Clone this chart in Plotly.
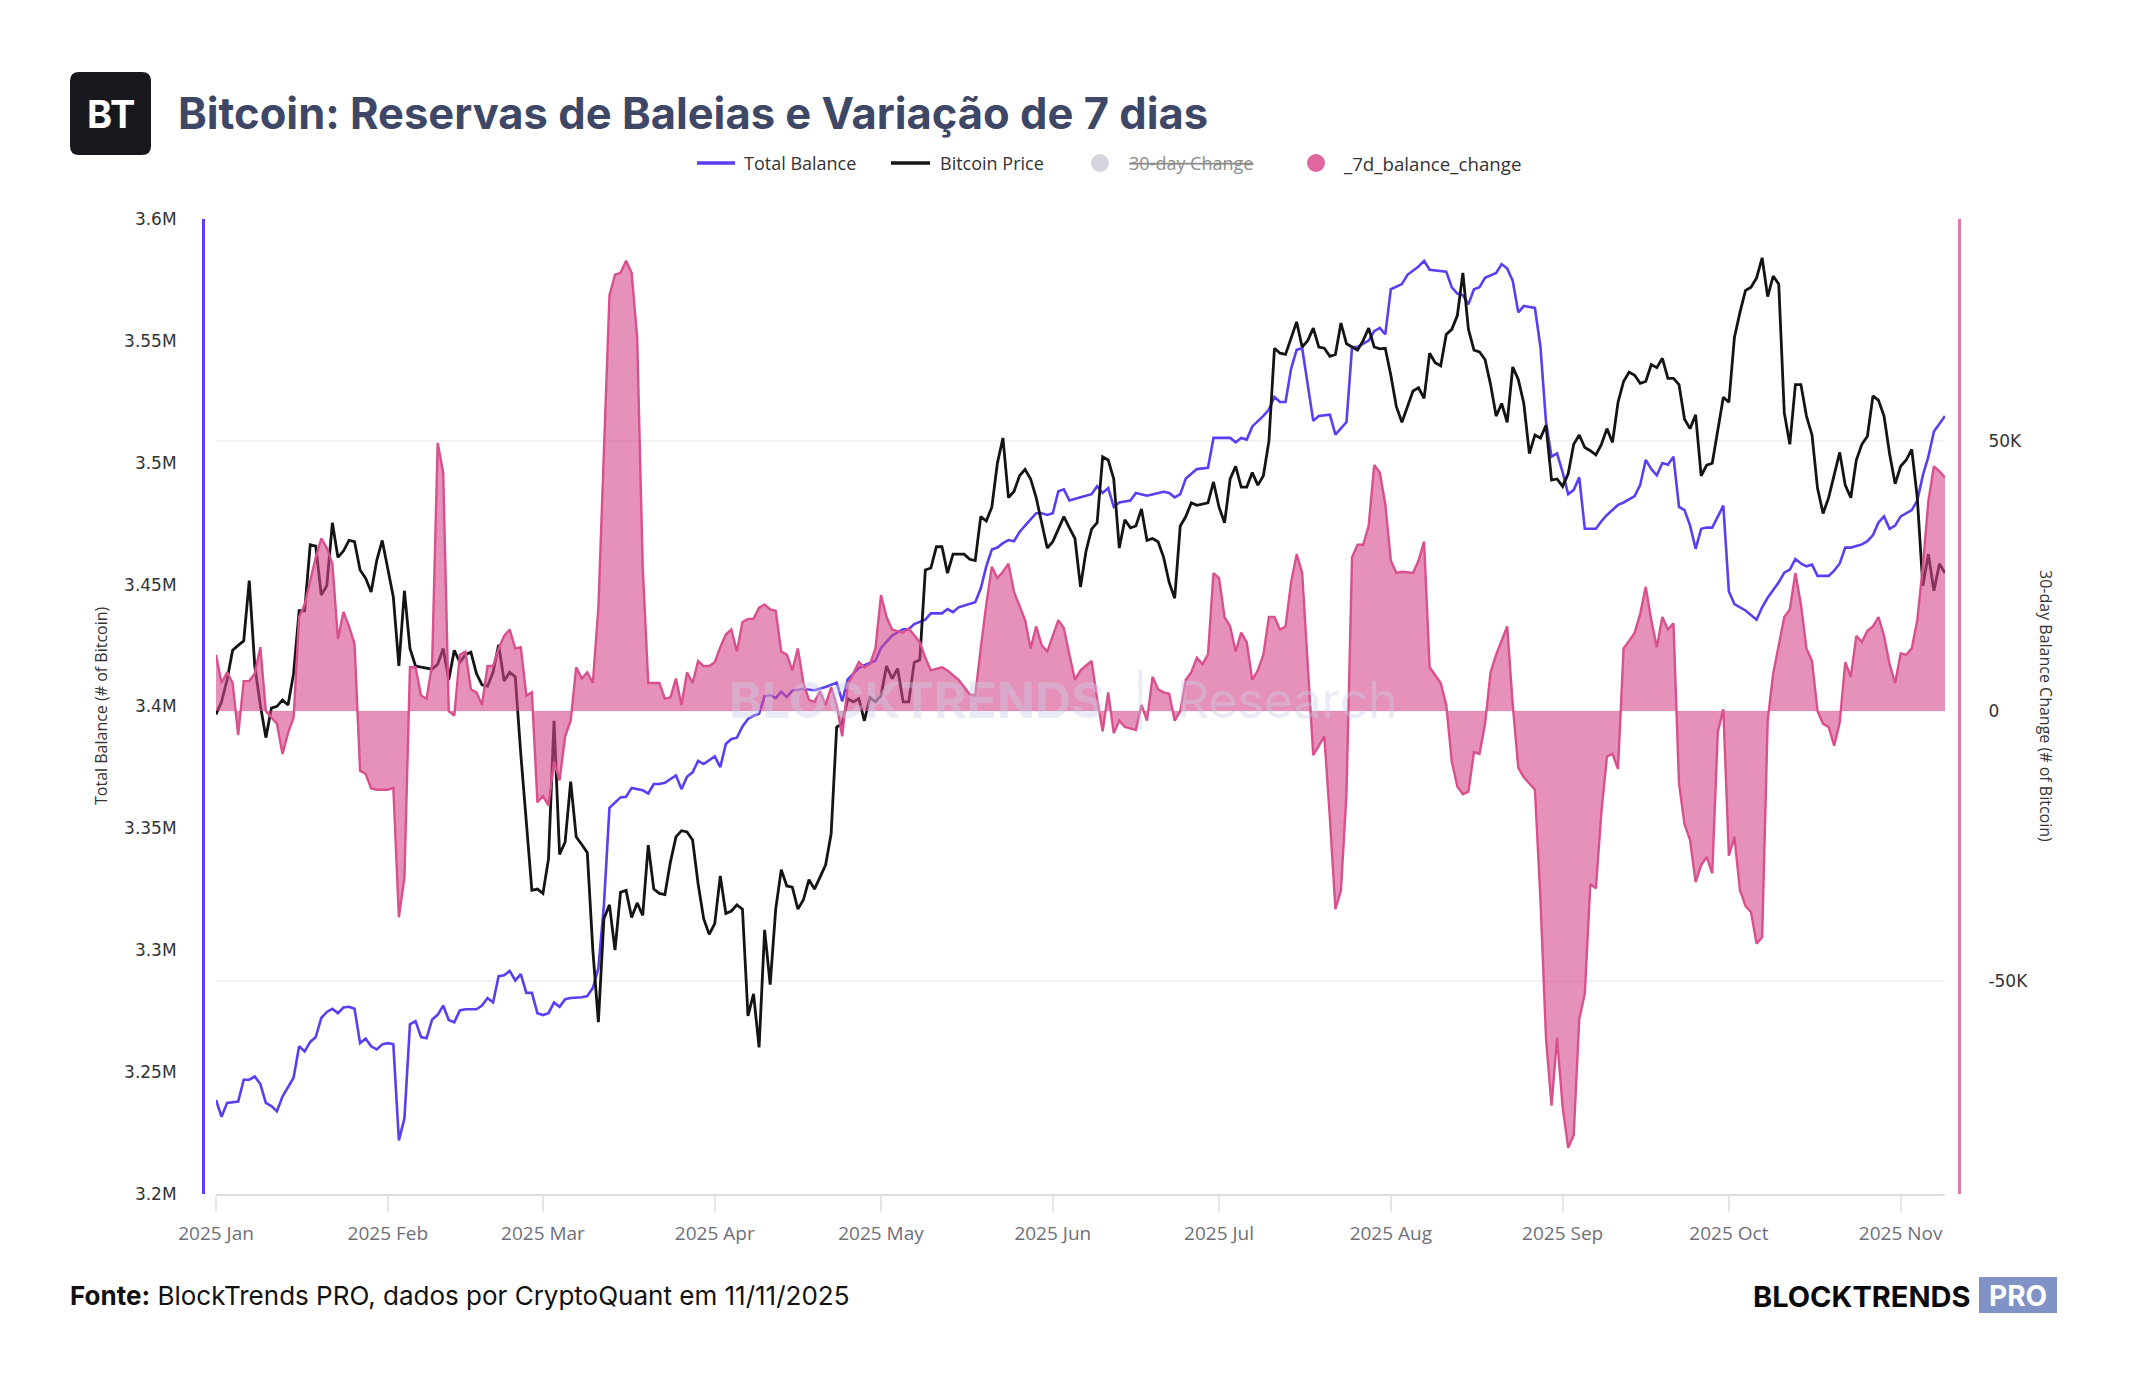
import pandas as pd
import plotly.graph_objects as go

W, H = 2144, 1400
START = pd.Timestamp("2025-01-01")

# ---------------- data ----------------
# day offsets from 2025-01-01
balance_day = [0, 1, 2, 4, 5, 6, 7, 8, 9, 10, 11, 12, 14, 15, 16, 17, 18, 19, 20, 21, 22, 23, 24, 25, 26, 27,
               28, 29, 30, 31, 32, 33, 34, 35, 36, 37, 38, 39, 40, 41, 42, 43, 44, 45, 47, 48, 49, 50, 51, 52,
               53, 54, 55, 56, 57, 58, 59, 60, 61, 62, 63, 64, 66, 67, 68, 69, 70, 71, 73, 74, 75, 77, 78, 79,
               80, 81, 83, 84, 85, 86, 87, 88, 90, 91, 92, 93, 94, 95, 96, 97, 98, 99, 100, 101, 102, 103, 104,
               106, 108, 110, 112, 113, 114, 116, 117, 119, 120, 122, 124, 125, 126, 128, 129, 131, 132, 133,
               134, 137, 138, 139, 140, 141, 142, 143, 144, 145, 146, 148, 149, 150, 151, 152, 153, 154, 156,
               158, 159, 160, 161, 162, 163, 165, 166, 168, 171, 172, 173, 174, 175, 177, 179, 180, 182, 183,
               184, 185, 186, 187, 189, 190, 191, 192, 193, 194, 195, 196, 198, 199, 201, 202, 204, 205, 206,
               208, 209, 210, 211, 212, 214, 215, 217, 218, 219, 222, 223, 224, 225, 226, 227, 228, 229, 231,
               232, 233, 234, 235, 236, 238, 239, 240, 241, 242, 243, 244, 245, 246, 247, 249, 250, 251, 253,
               254, 256, 257, 258, 259, 260, 261, 262, 263, 264, 265, 266, 267, 268, 269, 270, 272, 273, 274,
               276, 277, 278, 279, 280, 282, 283, 284, 285, 286, 287, 288, 289, 291, 292, 293, 294, 295, 297,
               298, 299, 300, 301, 302, 303, 304, 306, 307, 308, 309, 310, 312]
# Total Balance, millions of BTC
balance_m = [3.2386, 3.2317, 3.2374, 3.2379, 3.2469, 3.2469, 3.2482, 3.2451, 3.2374, 3.2361, 3.2340, 3.2400,
             3.2477, 3.2606, 3.2585, 3.2624, 3.2644, 3.2722, 3.2747, 3.2760, 3.2742, 3.2765, 3.2768, 3.2760,
             3.2619, 3.2637, 3.2606, 3.2593, 3.2614, 3.2619, 3.2614, 3.2220, 3.2310, 3.2696, 3.2709, 3.2644,
             3.2639, 3.2716, 3.2735, 3.2773, 3.2714, 3.2704, 3.2753, 3.2758, 3.2758, 3.2773, 3.2804, 3.2786,
             3.2894, 3.2897, 3.2915, 3.2876, 3.2902, 3.2825, 3.2825, 3.2742, 3.2734, 3.2742, 3.2786, 3.2768,
             3.2799, 3.2804, 3.2807, 3.2812, 3.2845, 3.2927, 3.3185, 3.3584, 3.3627, 3.3630, 3.3666, 3.3656,
             3.3643, 3.3682, 3.3682, 3.3687, 3.3717, 3.3661, 3.3712, 3.3730, 3.3777, 3.3764, 3.3795, 3.3751,
             3.3846, 3.3867, 3.3872, 3.3918, 3.3949, 3.3962, 3.3970, 3.4042, 3.4047, 3.4034, 3.4060, 3.4039,
             3.4065, 3.4073, 3.4067, 3.4080, 3.4098, 3.4021, 3.4111, 3.4158, 3.4170, 3.4188, 3.4240, 3.4291,
             3.4317, 3.4317, 3.4338, 3.4356, 3.4382, 3.4382, 3.4400, 3.4387, 3.4407, 3.4428, 3.4484, 3.4575,
             3.4644, 3.4652, 3.4670, 3.4683, 3.4678, 3.4716, 3.4742, 3.4793, 3.4793, 3.4786, 3.4793, 3.4883,
             3.4891, 3.4845, 3.4858, 3.4871, 3.4904, 3.4876, 3.4896, 3.4819, 3.4837, 3.4845, 3.4876, 3.4865,
             3.4881, 3.4876, 3.4858, 3.4871, 3.4935, 3.4974, 3.4979, 3.5102, 3.5102, 3.5102, 3.5084, 3.5102,
             3.5095, 3.5149, 3.5192, 3.5218, 3.5270, 3.5249, 3.5249, 3.5385, 3.5463, 3.5470, 3.5172, 3.5192,
             3.5197, 3.5115, 3.5167, 3.5475, 3.5475, 3.5501, 3.5540, 3.5553, 3.5527, 3.5712, 3.5733, 3.5771,
             3.5805, 3.5828, 3.5792, 3.5784, 3.5720, 3.5694, 3.5687, 3.5650, 3.5712, 3.5720, 3.5759, 3.5779,
             3.5815, 3.5797, 3.5746, 3.5617, 3.5643, 3.5635, 3.5475, 3.5167, 3.5025, 3.5038, 3.4961, 3.4871,
             3.4889, 3.4940, 3.4729, 3.4729, 3.4760, 3.4786, 3.4827, 3.4837, 3.4863, 3.4909, 3.5012, 3.4974,
             3.4948, 3.4999, 3.4992, 3.5025, 3.4819, 3.4806, 3.4742, 3.4647, 3.4729, 3.4734, 3.4734, 3.4824,
             3.4472, 3.4420, 3.4394, 3.4374, 3.4356, 3.4407, 3.4446, 3.4510, 3.4549, 3.4562, 3.4605, 3.4587,
             3.4575, 3.4582, 3.4536, 3.4536, 3.4557, 3.4587, 3.4652, 3.4652, 3.4665, 3.4678, 3.4703, 3.4755,
             3.4780, 3.4729, 3.4742, 3.4780, 3.4806, 3.4845, 3.4948, 3.5025, 3.5128, 3.5192]

price_day = [0, 1, 2, 3, 4, 5, 6, 7, 8, 9, 10, 11, 12, 13, 14, 15, 16, 17, 18, 19, 20, 21, 22, 23, 24, 25, 26,
             27, 28, 29, 30, 31, 32, 33, 34, 35, 36, 39, 40, 41, 42, 43, 44, 45, 46, 47, 48, 49, 50, 51, 52, 53,
             54, 55, 57, 58, 59, 60, 61, 62, 63, 64, 65, 66, 67, 68, 69, 70, 71, 72, 73, 74, 75, 76, 77, 78, 79,
             80, 81, 82, 83, 84, 85, 86, 87, 88, 89, 90, 91, 92, 93, 94, 95, 96, 97, 98, 99, 100, 101, 102, 103,
             104, 105, 106, 107, 108, 109, 110, 111, 112, 113, 114, 115, 116, 117, 118, 119, 120, 121, 122,
             123, 124, 125, 126, 127, 128, 129, 130, 131, 132, 133, 134, 135, 136, 137, 138, 139, 140, 141,
             142, 143, 144, 145, 146, 147, 148, 150, 151, 153, 154, 155, 156, 157, 158, 159, 160, 161, 162,
             163, 164, 165, 166, 167, 168, 169, 170, 171, 172, 173, 174, 175, 176, 177, 179, 180, 181, 182,
             183, 184, 185, 186, 187, 188, 189, 190, 191, 192, 193, 194, 195, 196, 197, 198, 199, 200, 201,
             202, 203, 204, 205, 206, 207, 208, 209, 210, 211, 212, 213, 214, 216, 217, 218, 219, 220, 221,
             222, 223, 224, 225, 226, 227, 228, 229, 230, 231, 232, 233, 234, 235, 236, 237, 238, 239, 240,
             241, 242, 243, 244, 245, 246, 247, 248, 249, 250, 251, 252, 253, 254, 255, 256, 257, 258, 259,
             260, 261, 262, 263, 264, 265, 266, 267, 268, 269, 270, 271, 272, 273, 274, 275, 276, 277, 278,
             279, 280, 281, 282, 283, 284, 285, 286, 287, 288, 289, 290, 291, 292, 293, 294, 295, 296, 297,
             298, 299, 300, 301, 302, 303, 304, 305, 306, 307, 308, 309, 310, 311, 312]
# Bitcoin Price, thousands of USD (plotted on a hidden axis)
price_k = [97.24, 98.03, 99.42, 101.28, 101.59, 101.87, 105.67, 100.29, 97.83, 95.78, 97.64, 97.75, 98.15,
           97.83, 99.81, 103.77, 103.77, 107.92, 107.84, 104.76, 105.35, 109.31, 107.13, 107.53, 108.20,
           108.12, 106.34, 105.82, 104.95, 106.93, 108.20, 106.34, 104.64, 100.29, 105.03, 101.39, 100.29,
           100.09, 100.40, 101.39, 99.42, 101.28, 100.52, 101.00, 101.16, 99.81, 99.10, 99.02, 99.89, 101.63,
           99.34, 99.89, 99.61, 94.75, 86.16, 86.24, 85.97, 88.14, 96.84, 88.42, 89.21, 93.01, 89.53, 89.05,
           88.54, 82.40, 77.86, 84.38, 85.25, 82.40, 86.04, 86.16, 84.46, 85.37, 84.58, 89.01, 86.24, 85.97,
           85.89, 87.94, 89.53, 89.92, 89.84, 89.33, 86.56, 84.38, 83.39, 84.07, 87.07, 84.70, 84.86, 85.25,
           84.98, 78.25, 79.64, 76.27, 83.67, 80.23, 84.98, 87.47, 86.44, 86.36, 84.98, 85.57, 86.84, 86.24,
           86.95, 87.75, 89.72, 96.45, 96.65, 98.23, 98.03, 98.23, 96.84, 98.31, 98.03, 98.43, 100.29, 99.49,
           100.13, 98.03, 98.03, 100.52, 100.68, 106.34, 106.46, 107.80, 107.80, 106.14, 107.33, 107.33,
           107.33, 107.01, 106.93, 109.70, 109.42, 110.29, 113.06, 114.65, 110.89, 111.28, 112.27, 112.67,
           112.07, 110.89, 107.72, 108.12, 109.70, 108.99, 108.32, 105.27, 107.53, 108.91, 109.31, 113.46,
           113.26, 112.07, 107.72, 109.50, 108.99, 109.11, 110.18, 108.20, 108.32, 108.12, 107.13, 105.55,
           104.56, 109.11, 109.70, 110.57, 110.41, 110.57, 111.88, 110.29, 109.31, 112.07, 112.87, 111.56,
           111.56, 112.47, 111.68, 112.27, 114.45, 120.30, 119.99, 119.91, 120.98, 121.96, 120.38, 120.78,
           121.57, 120.38, 120.30, 119.79, 119.91, 121.89, 120.58, 120.38, 120.18, 120.78, 121.57, 120.38,
           120.26, 120.30, 118.60, 116.62, 115.64, 117.61, 117.81, 117.14, 119.99, 119.39, 119.20, 121.17,
           121.49, 122.36, 125.05, 121.50, 120.18, 120.07, 119.59, 118.01, 116.03, 116.82, 115.64, 119.12,
           118.33, 116.82, 113.66, 114.84, 114.65, 115.44, 112.00, 112.07, 111.60, 112.39, 114.25, 114.84,
           114.05, 113.85, 113.58, 114.25, 115.24, 114.37, 116.90, 118.21, 118.80, 118.60, 118.09, 118.21,
           119.27, 119.08, 119.67, 118.40, 118.40, 118.01, 115.83, 115.24, 116.11, 112.27, 112.94, 113.06,
           115.24, 117.22, 116.90, 120.98, 122.56, 123.94, 124.14, 124.73, 126.00, 123.55, 124.85, 124.34,
           116.23, 114.25, 118.01, 118.01, 116.03, 114.84, 111.48, 109.90, 110.89, 112.27, 113.74, 111.68,
           110.89, 113.26, 114.25, 114.76, 117.30, 117.02, 116.03, 113.66, 111.76, 112.87, 113.26, 113.93,
           110.89, 105.35, 107.33, 105.03, 106.73, 106.14]

change_day = [0, 1, 2, 3, 4, 5, 6, 7, 8, 9, 10, 11, 12, 13, 14, 15, 16, 17, 18, 19, 20, 21, 22, 23, 24, 25, 26,
              27, 28, 29, 31, 32, 33, 34, 35, 36, 37, 38, 39, 40, 41, 42, 43, 44, 45, 46, 47, 48, 49, 50, 51,
              52, 53, 54, 55, 56, 57, 58, 59, 60, 61, 62, 63, 64, 65, 66, 67, 68, 69, 71, 72, 73, 74, 75, 76,
              77, 78, 79, 80, 81, 82, 83, 84, 85, 86, 87, 88, 89, 90, 91, 92, 93, 94, 95, 96, 97, 98, 99, 100,
              101, 102, 103, 104, 105, 106, 107, 108, 109, 110, 111, 112, 113, 114, 115, 116, 117, 118, 119,
              120, 121, 122, 124, 125, 127, 128, 129, 131, 132, 134, 136, 137, 138, 139, 140, 141, 142, 143,
              144, 146, 147, 148, 149, 150, 152, 153, 154, 155, 156, 158, 159, 160, 161, 162, 163, 164, 166,
              167, 168, 169, 170, 171, 172, 173, 174, 175, 176, 177, 178, 179, 180, 181, 182, 183, 184, 185,
              186, 187, 188, 189, 190, 191, 192, 193, 194, 195, 196, 197, 198, 199, 200, 201, 202, 203, 204,
              205, 206, 207, 208, 209, 210, 211, 212, 213, 214, 216, 217, 218, 219, 221, 222, 223, 224, 225,
              226, 227, 228, 229, 230, 231, 233, 234, 235, 236, 238, 239, 240, 241, 242, 243, 244, 245, 246,
              247, 248, 249, 250, 251, 252, 253, 254, 255, 256, 257, 258, 259, 260, 261, 262, 263, 264, 265,
              266, 267, 268, 269, 270, 271, 272, 273, 274, 275, 276, 277, 278, 279, 280, 281, 282, 283, 284,
              285, 286, 287, 288, 289, 290, 291, 292, 293, 294, 295, 296, 297, 298, 299, 300, 301, 302, 303,
              304, 305, 306, 307, 308, 309, 310, 311, 312]
# _7d_balance_change, thousands of BTC
change_k = [10.43, 5.19, 7.17, 5.19, -4.46, 5.54, 5.54, 6.94, 11.82, -0.04, -1.21, -2.37, -7.95, -4.11, -1.21,
            17.41, 19.73, 24.38, 28.46, 31.95, 30.20, 27.29, 13.33, 18.34, 15.66, 12.40, -11.09, -11.67,
            -14.35, -14.58, -14.58, -14.23, -38.20, -30.87, 8.10, 8.10, 2.87, 2.28, 8.68, 49.63, 44.16, -0.04,
            -0.86, 10.43, 11.01, 4.03, 3.45, 1.12, 8.33, 8.33, 11.59, 13.92, 15.08, 11.59, 11.82, 2.87, 3.45,
            -16.91, -15.75, -17.49, -9.35, -12.84, -4.70, -1.79, 8.10, 6.01, 7.17, 5.19, 19.15, 76.96, 80.80,
            81.15, 83.36, 81.15, 69.17, 26.71, 5.19, 5.19, 5.19, 2.28, 2.52, 6.01, 1.12, 7.17, 5.19, 9.26,
            8.33, 8.33, 9.03, 11.82, 14.15, 15.08, 11.01, 16.47, 17.06, 17.06, 19.15, 19.73, 18.80, 18.57,
            11.01, 10.43, 7.52, 11.59, 5.19, 2.05, 1.70, 3.68, 1.12, 4.38, 1.12, -4.70, 4.84, 6.94, 9.03,
            8.10, 8.68, 11.59, 21.48, 17.41, 15.08, 14.50, 15.31, 12.75, 9.84, 7.52, 8.10, 7.52, 5.77, 3.10,
            2.87, 11.59, 19.73, 26.71, 24.62, 25.78, 27.29, 22.06, 16.82, 11.59, 15.66, 12.17, 11.01, 16.82,
            15.31, 10.43, 5.77, 7.52, 9.26, 2.28, -3.76, 3.45, -4.11, -1.79, -2.95, -3.53, 1.12, -1.79, 6.35,
            4.03, 3.45, 3.21, -1.79, -0.04, 5.77, 7.17, 9.84, 8.68, 10.43, 25.55, 24.62, 17.41, 15.66, 11.01,
            14.50, 12.75, 5.77, 7.52, 10.43, 17.41, 17.41, 15.08, 15.66, 23.80, 29.04, 25.55, 8.10, -8.19,
            -6.44, -4.70, -19.82, -36.68, -33.19, -15.16, 28.46, 30.78, 30.78, 34.27, 45.55, 44.16, 38.34,
            27.87, 25.55, 25.78, 25.55, 27.87, 31.36, 8.10, 5.19, 1.12, -9.35, -14.00, -15.40, -14.93, -7.60,
            -7.95, -2.37, 7.17, 10.43, 15.66, 1.12, -10.51, -12.26, -14.58, -34.94, -60.53, -73.09, -60.53,
            -73.32, -80.89, -78.56, -57.04, -52.39, -32.03, -32.85, -18.65, -8.42, -7.95, -10.74, 11.59,
            12.99, 14.50, 17.99, 22.99, 16.82, 11.82, 17.41, 15.08, 16.24, -13.42, -20.98, -23.89, -31.68,
            -28.54, -27.03, -30.05, -3.88, 0.31, -26.80, -23.31, -33.19, -36.10, -37.27, -43.08, -41.92,
            -1.79, 6.94, 12.17, 17.41, 18.80, 25.55, 19.73, 11.59, 9.26, -0.04, -2.37, -2.95, -6.44, -2.14,
            9.03, 6.35, 13.92, 12.75, 14.85, 15.66, 17.41, 13.92, 8.68, 5.19, 10.66, 10.43, 11.59, 16.82,
            26.71, 38.92, 45.32, 44.39, 43.23]

x_tick_dates = ["2025-01-01", "2025-02-01", "2025-03-01", "2025-04-01", "2025-05-01", "2025-06-01",
                "2025-07-01", "2025-08-01", "2025-09-01", "2025-10-01", "2025-11-01"]
x_tick_labels = ["2025 Jan", "2025 Feb", "2025 Mar", "2025 Apr", "2025 May", "2025 Jun",
                 "2025 Jul", "2025 Aug", "2025 Sep", "2025 Oct", "2025 Nov"]
left_tick_vals = [3.20e6, 3.25e6, 3.30e6, 3.35e6, 3.40e6, 3.45e6, 3.50e6, 3.55e6, 3.60e6]
left_tick_labels = ["3.2M", "3.25M", "3.3M", "3.35M", "3.4M", "3.45M", "3.5M", "3.55M", "3.6M"]
right_tick_vals = [-50000, 0, 50000]
right_tick_labels = ["-50K", "0", "50K"]

legend_names = ["Total Balance", "Bitcoin Price", "30-day Change", "_7d_balance_change"]

# ---------------- helpers ----------------
def to_dates(days):
    return [START + pd.Timedelta(days=d) for d in days]

def px(x):  # page pixel -> paper fraction
    return x / W

def py(y):
    return 1 - y / H

C_BAL = "#5a3ef2"
C_PRICE = "#141414"
C_PINK = "#d9508e"
C_FILL = "rgba(214,72,140,0.6)"
C_RAXIS = "#e07aaa"

bal_x = to_dates(balance_day)
price_x = to_dates(price_day)
chg_x = to_dates(change_day)

fig = go.Figure()
fig.add_trace(go.Scatter(x=bal_x, y=[v * 1e6 for v in balance_m], name=legend_names[0], mode="lines",
                         line=dict(color=C_BAL, width=2.6), yaxis="y"))
fig.add_trace(go.Scatter(x=price_x, y=[v * 1e3 for v in price_k], name=legend_names[1], mode="lines",
                         line=dict(color=C_PRICE, width=2.8), yaxis="y2"))
fig.add_trace(go.Scatter(x=chg_x, y=[v * 1e3 for v in change_k], name=legend_names[3], mode="lines",
                         line=dict(color=C_PINK, width=2.4), fill="tozeroy", fillcolor=C_FILL, yaxis="y3"))

x_start = bal_x[0]
x_end = max(bal_x[-1], price_x[-1], chg_x[-1])

fig.update_layout(
    width=W, height=H,
    margin=dict(l=0, r=0, t=0, b=0, autoexpand=False),
    paper_bgcolor="white", plot_bgcolor="white",
    showlegend=False,
    xaxis=dict(
        domain=[px(216), px(1945)], range=[x_start, x_end], type="date", automargin=False,
        tickvals=x_tick_dates, ticktext=x_tick_labels,
        ticks="outside", ticklen=16, tickwidth=1.5, tickcolor="#e4e4ea",
        showline=True, linecolor="#dedee6", linewidth=2,
        showgrid=False, zeroline=False,
        tickfont=dict(family="Open Sans", size=19, color="#6e7079"),
        ticklabelstandoff=5,
    ),
    yaxis=dict(
        domain=[py(1194), py(219)], range=[3.2e6, 3.6e6], automargin=False,
        anchor="free", position=px(203), side="left",
        tickvals=left_tick_vals, ticktext=left_tick_labels,
        showline=True, linecolor=C_BAL, linewidth=3,
        showgrid=False, zeroline=False, ticks="",
        tickfont=dict(family="DejaVu Sans", size=17, color="#333333"),
        ticklabelstandoff=22,
    ),
    yaxis2=dict(overlaying="y", range=[67040, 128440], visible=False, automargin=False),
    yaxis3=dict(
        overlaying="y", side="right", anchor="free", position=px(1959), automargin=False,
        range=[-89444, 91111],
        tickvals=right_tick_vals, ticktext=right_tick_labels,
        showgrid=True, gridcolor="#f2f2f5", gridwidth=1.5, zeroline=False,
        showline=True, linecolor=C_RAXIS, linewidth=3, ticks="",
        tickfont=dict(family="DejaVu Sans", size=17, color="#333333"),
        ticklabelstandoff=24,
    ),
)

shapes = []
ann = []

# BT logo (rounded square)
def rounded_rect(x0, y0, x1, y1, r):
    rx, ry = r / W, r / H
    X0, X1 = px(x0), px(x1)
    Y0, Y1 = py(y0), py(y1)
    return (f"M {X0+rx},{Y0} L {X1-rx},{Y0} Q {X1},{Y0} {X1},{Y0-ry} "
            f"L {X1},{Y1+ry} Q {X1},{Y1} {X1-rx},{Y1} L {X0+rx},{Y1} Q {X0},{Y1} {X0},{Y1+ry} "
            f"L {X0},{Y0-ry} Q {X0},{Y0} {X0+rx},{Y0} Z")

shapes.append(dict(type="path", xref="paper", yref="paper", path=rounded_rect(70, 72, 151, 155, 9),
                   fillcolor="#16181d", line=dict(width=0), layer="above"))
ann.append(dict(x=px(110.5), y=py(114), xref="paper", yref="paper", text="<b>BT</b>", showarrow=False,
                xanchor="center", yanchor="middle",
                font=dict(family="Inter", size=38, color="white")))

# title
ann.append(dict(x=px(176), y=py(113), xref="paper", yref="paper",
                text="<b>Bitcoin: Reservas de Baleias e Variação de 7 dias</b>", showarrow=False,
                xanchor="left", yanchor="middle",
                font=dict(family="Inter", size=43.5, color="#3f4766")))

# custom legend
LY = 163
shapes.append(dict(type="line", xref="paper", yref="paper", x0=px(697), x1=px(735), y0=py(LY), y1=py(LY),
                   line=dict(color=C_BAL, width=3.5)))
shapes.append(dict(type="line", xref="paper", yref="paper", x0=px(891), x1=px(930), y0=py(LY), y1=py(LY),
                   line=dict(color=C_PRICE, width=3.5)))
shapes.append(dict(type="circle", xref="paper", yref="paper", x0=px(1091), x1=px(1109), y0=py(LY - 9),
                   y1=py(LY + 9), fillcolor="#d5d5df", line=dict(width=0)))
shapes.append(dict(type="circle", xref="paper", yref="paper", x0=px(1307), x1=px(1325), y0=py(LY - 9),
                   y1=py(LY + 9), fillcolor="#e066a0", line=dict(width=0)))
leg_font = dict(family="Open Sans", size=18, color="#333333")
ann.append(dict(x=px(742), y=py(LY), xref="paper", yref="paper", text=legend_names[0], showarrow=False,
                xanchor="left", yanchor="middle", font=leg_font))
ann.append(dict(x=px(938), y=py(LY), xref="paper", yref="paper", text=legend_names[1], showarrow=False,
                xanchor="left", yanchor="middle", font=leg_font))
ann.append(dict(x=px(1127), y=py(LY), xref="paper", yref="paper", text="<s>" + legend_names[2] + "</s>",
                showarrow=False, xanchor="left", yanchor="middle",
                font=dict(family="Open Sans", size=18, color="#8c8c8c")))
ann.append(dict(x=px(1341), y=py(LY), xref="paper", yref="paper", text=legend_names[3], showarrow=False,
                xanchor="left", yanchor="middle", font=dict(family="Open Sans", size=18.7, color="#333333")))

# axis titles
ann.append(dict(x=px(101), y=py(706), xref="paper", yref="paper", text="Total Balance (# of Bitcoin)",
                showarrow=False, textangle=-90, xanchor="center", yanchor="middle",
                font=dict(family="Open Sans", size=16, color="#333333")))
ann.append(dict(x=px(2046), y=py(706), xref="paper", yref="paper",
                text="30-day Balance Change (# of Bitcoin)",
                showarrow=False, textangle=90, xanchor="center", yanchor="middle",
                font=dict(family="Open Sans", size=16, color="#333333")))

# watermark
ann.append(dict(x=px(1063), y=py(700), xref="paper", yref="paper",
                text="<b>BLOCKTRENDS</b>  |  Research", showarrow=False,
                xanchor="center", yanchor="middle",
                font=dict(family="Inter", size=50, color="rgba(200,208,232,0.40)")))

# footer
ann.append(dict(x=px(68), y=py(1295), xref="paper", yref="paper",
                text="<b>Fonte:</b> BlockTrends PRO, dados por CryptoQuant em 11/11/2025", showarrow=False,
                xanchor="left", yanchor="middle", font=dict(family="Inter", size=26, color="#111111")))
ann.append(dict(x=px(1972), y=py(1296), xref="paper", yref="paper", text="<b>BLOCKTRENDS</b>",
                showarrow=False, xanchor="right", yanchor="middle",
                font=dict(family="Inter", size=29, color="#0a0a0a", weight=900)))
shapes.append(dict(type="rect", xref="paper", yref="paper", x0=px(1979), x1=px(2057), y0=py(1313),
                   y1=py(1277), fillcolor="#8092c6", line=dict(width=0)))
ann.append(dict(x=px(2018), y=py(1296), xref="paper", yref="paper", text="<b>PRO</b>",
                showarrow=False, xanchor="center", yanchor="middle",
                font=dict(family="Inter", size=28, color="white", weight=900)))

fig.update_layout(shapes=shapes, annotations=ann)
fig.write_html("out.html")
